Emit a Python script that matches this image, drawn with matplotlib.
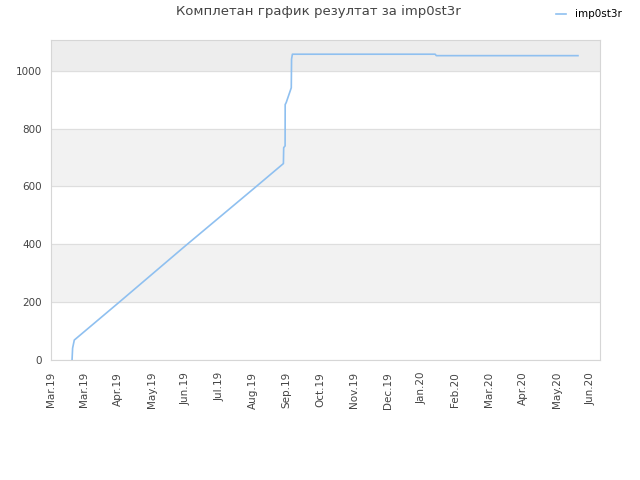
import matplotlib
matplotlib.use("Agg")
import matplotlib.pyplot as plt
import matplotlib.dates as mdates
import pandas as pd

player = "imp0st3r"
dates = ["2019-03-20 00:00", "2019-03-20 12:00", "2019-03-22 00:00",
         "2019-05-01 00:00", "2019-06-28 00:00", "2019-08-30 00:00",
         "2019-09-24 00:00", "2019-09-24 06:00", "2019-09-25 12:00",
         "2019-09-25 14:00", "2019-09-26 12:00", "2019-10-01 00:00",
         "2019-10-01 06:00", "2019-10-02 00:00", "2020-02-06 00:00",
         "2020-02-07 00:00", "2020-06-12 00:00"]
scores = [0, 41, 69,
          200, 392, 597,
          679, 734, 740,
          883, 890, 941,
          1040, 1057, 1057,
          1052, 1052]
tick_dates = pd.date_range("2019-03-01", periods=17, freq="30D")

x = pd.to_datetime(dates, format="%Y-%m-%d %H:%M")

fig = plt.figure(figsize=(6.4, 4.8), dpi=100)
ax = fig.add_axes([0.0792, 0.25, 0.859, 0.666])

# alternating bands
ymax = 1105
ax.axhspan(200, 400, color="#f2f2f2", zorder=0)
ax.axhspan(600, 800, color="#f2f2f2", zorder=0)
ax.axhspan(1000, ymax, color="#ededed", zorder=0)
for y in range(0, 1001, 200):
    ax.axhline(y, color="#dedede", lw=0.8, zorder=1)

line, = ax.plot(x, scores, color="#8fc0f0", lw=1.2, zorder=3, label=player)

ax.set_xlim(pd.Timestamp("2019-03-01"), pd.Timestamp("2020-07-02"))
ax.set_ylim(0, ymax)
ax.set_yticks(range(0, 1001, 200))
ax.set_xticks(tick_dates)
ax.xaxis.set_major_formatter(mdates.DateFormatter("%b.%y"))
plt.setp(ax.get_xticklabels(), rotation=90)
ax.tick_params(axis="both", length=0, labelsize=7.5, colors="#444444", pad=6)
ax.tick_params(axis="x", pad=8.5)

for s in ax.spines.values():
    s.set_color("#d6d6d6")
    s.set_linewidth(0.8)

fig.text(0.497, 0.975, "Комплетан график резултат за imp0st3r",
         ha="center", va="center", fontsize=9.5, color="#444444")
fig.legend(handles=[line], loc="upper right", bbox_to_anchor=(0.986, 1.0),
           frameon=False, fontsize=7.5, handlelength=1.0, handletextpad=0.8)

fig.savefig("out.png", dpi=100)
